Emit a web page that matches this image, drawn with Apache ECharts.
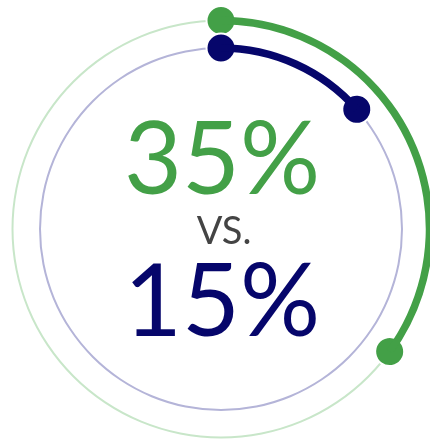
<!DOCTYPE html>
<html lang="en">
<head>
    <meta charset="UTF-8">
    <title>35% vs 15%</title>
    <script src="https://cdn.jsdelivr.net/npm/echarts@6/dist/echarts.min.js"></script>
    <style>
        html, body { margin: 0; padding: 0; background: #fff; }
        #main { width: 430px; height: 442px; }
    </style>
</head>
<body>
<div id="main"></div>
<script type="text/javascript">
    // data
    var bigLabels = ['35%', '15%'];
    var middleLabel = 'VS.';
    // arc ends: start at 0 (top), run clockwise
    var outerValues = [0, 35];
    var innerValues = [0, 13.5];

    var green = '#43a047', greenTrack = '#c8e6c9';
    var navy = '#06066b', navyTrack = '#b4b4d8';
    var cx = 221, cy = 229;
    var dot = 29;

    function track(r, color) {
        return {
            type: 'gauge', center: [cx, cy], radius: r + 1,
            startAngle: 90, endAngle: -270, min: 0, max: 100,
            axisLine: {lineStyle: {width: 2, color: [[1, color]]}},
            splitLine: {show: false}, axisTick: {show: false}, axisLabel: {show: false},
            pointer: {show: false}, anchor: {show: false}, title: {show: false}, detail: {show: false},
            data: [{value: 0}],
            silent: true
        };
    }

    function arc(r, color, values) {
        return {
            type: 'gauge', center: [cx, cy], radius: r + 3.75,
            startAngle: 90, endAngle: -270, min: 0, max: 100,
            axisLine: {show: false},
            progress: {show: true, width: 7.5, itemStyle: {color: color}},
            splitLine: {show: false}, axisTick: {show: false}, axisLabel: {show: false},
            pointer: {
                show: true, icon: 'circle', width: dot, length: dot,
                offsetCenter: [0, -(r - dot / 2)],
                itemStyle: {color: color, borderColor: '#fff', borderWidth: 2}
            },
            anchor: {show: false}, title: {show: false}, detail: {show: false},
            data: values.map(function (v) { return {value: v}; }),
            silent: true
        };
    }

    var myChart = echarts.init(document.getElementById('main'));
    var option = {
        animation: false,
        series: [
            track(208.5, greenTrack),
            track(181, navyTrack),
            arc(208.5, green, outerValues),
            arc(181, navy, innerValues)
        ],
        graphic: [
            {
                type: 'text', x: 222, y: 162,
                style: {text: bigLabels[0], fill: green, font: '100px Lato', textAlign: 'center', textVerticalAlign: 'middle'}
            },
            {
                type: 'text', x: 224, y: 232,
                style: {text: middleLabel, fill: '#444', font: '38px Lato', textAlign: 'center', textVerticalAlign: 'middle'}
            },
            {
                type: 'text', x: 222, y: 304,
                style: {text: bigLabels[1], fill: navy, font: '100px Lato', textAlign: 'center', textVerticalAlign: 'middle'}
            }
        ]
    };
    myChart.setOption(option);
</script>
</body>
</html>
